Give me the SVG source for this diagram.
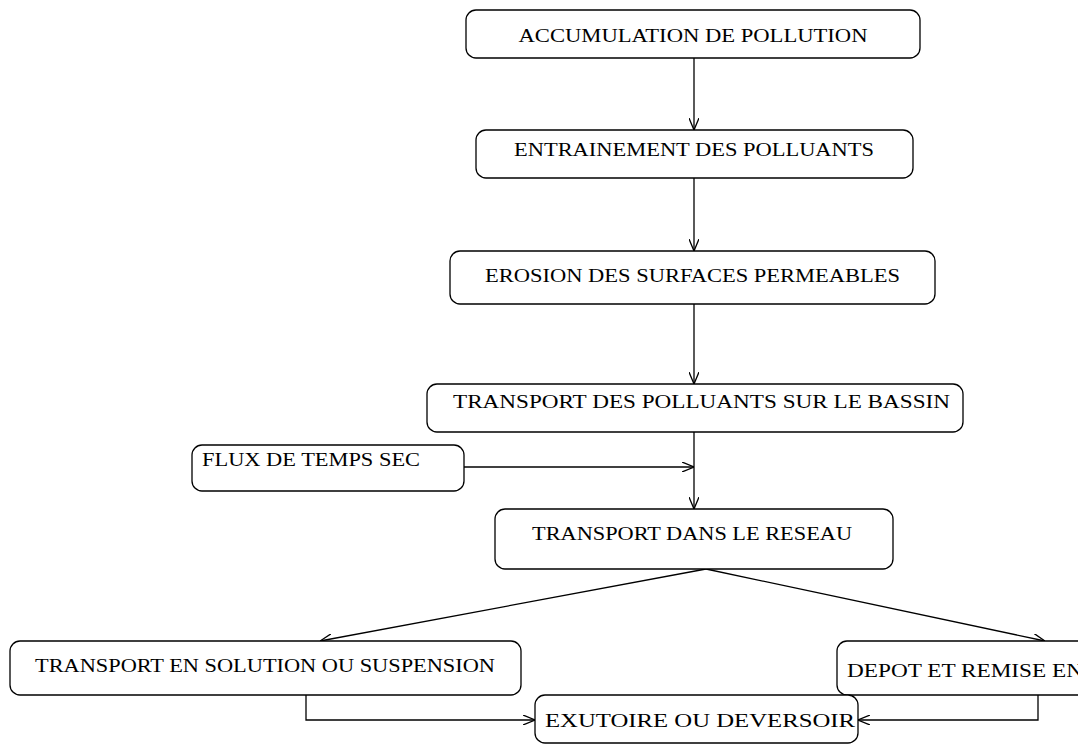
<svg xmlns="http://www.w3.org/2000/svg" width="1078" height="744" viewBox="0 0 1078 744">
<style>
.box{fill:#fff;stroke:#000;stroke-width:1.3}
.t{font-family:"Liberation Serif","Times New Roman",serif;font-size:18px;fill:#000}
.c{fill:none;stroke:#000;stroke-width:1.3}
</style>
<defs>
<marker id="a" viewBox="0 0 12 10" refX="12" refY="5" markerWidth="12" markerHeight="10" markerUnits="userSpaceOnUse" orient="auto">
<path d="M0,0 L12,5 L0,10" fill="none" stroke="#000" stroke-width="1.3"/>
</marker>
</defs>
<rect width="1078" height="744" fill="#fff"/>
<g id="connectors">
<line class="c" x1="694" y1="58" x2="694" y2="130" marker-end="url(#a)"/>
<line class="c" x1="694" y1="178" x2="694" y2="251" marker-end="url(#a)"/>
<line class="c" x1="694" y1="304" x2="694" y2="384" marker-end="url(#a)"/>
<line class="c" x1="694" y1="432" x2="694" y2="509" marker-end="url(#a)"/>
<line class="c" x1="464" y1="467" x2="694" y2="467" marker-end="url(#a)"/>
<line class="c" x1="706" y1="569" x2="320" y2="641" marker-end="url(#a)"/>
<line class="c" x1="706" y1="569" x2="1045" y2="641" marker-end="url(#a)"/>
<polyline class="c" points="306,695 306,720 535,720" marker-end="url(#a)"/>
<polyline class="c" points="1038,695 1038,720 858,720" marker-end="url(#a)"/>
</g>
<g id="n1"><rect class="box" x="466" y="10" width="454" height="48" rx="10"/><text class="t" x="693" y="42" text-anchor="middle" textLength="349" lengthAdjust="spacingAndGlyphs">ACCUMULATION DE POLLUTION</text></g>
<g id="n2"><rect class="box" x="476" y="130" width="437" height="48" rx="10"/><text class="t" x="694" y="156" text-anchor="middle" textLength="360" lengthAdjust="spacingAndGlyphs">ENTRAINEMENT DES POLLUANTS</text></g>
<g id="n3"><rect class="box" x="450" y="251" width="485" height="53" rx="10"/><text class="t" x="485" y="282" textLength="415" lengthAdjust="spacingAndGlyphs">EROSION DES SURFACES PERMEABLES</text></g>
<g id="n4"><rect class="box" x="427" y="384" width="536" height="48" rx="10"/><text class="t" x="453" y="408" textLength="497" lengthAdjust="spacingAndGlyphs">TRANSPORT DES POLLUANTS SUR LE BASSIN</text></g>
<g id="n5"><rect class="box" x="192" y="445" width="272" height="46" rx="10"/><text class="t" x="202" y="466" textLength="218" lengthAdjust="spacingAndGlyphs">FLUX DE TEMPS SEC</text></g>
<g id="n6"><rect class="box" x="495" y="509" width="398" height="60" rx="10"/><text class="t" x="532" y="540" textLength="320" lengthAdjust="spacingAndGlyphs">TRANSPORT DANS LE RESEAU</text></g>
<g id="n7"><rect class="box" x="10" y="641" width="511" height="54" rx="10"/><text class="t" x="35" y="672" textLength="460" lengthAdjust="spacingAndGlyphs">TRANSPORT EN SOLUTION OU SUSPENSION</text></g>
<g id="n8"><rect class="box" x="837" y="641" width="300" height="54" rx="10"/><text class="t" x="847" y="677" textLength="236" lengthAdjust="spacingAndGlyphs">DEPOT ET REMISE EN</text></g>
<g id="n9"><rect class="box" x="535" y="695" width="323" height="48" rx="10"/><text class="t" x="545" y="727" textLength="310" lengthAdjust="spacingAndGlyphs">EXUTOIRE OU DEVERSOIR</text></g>
</svg>
